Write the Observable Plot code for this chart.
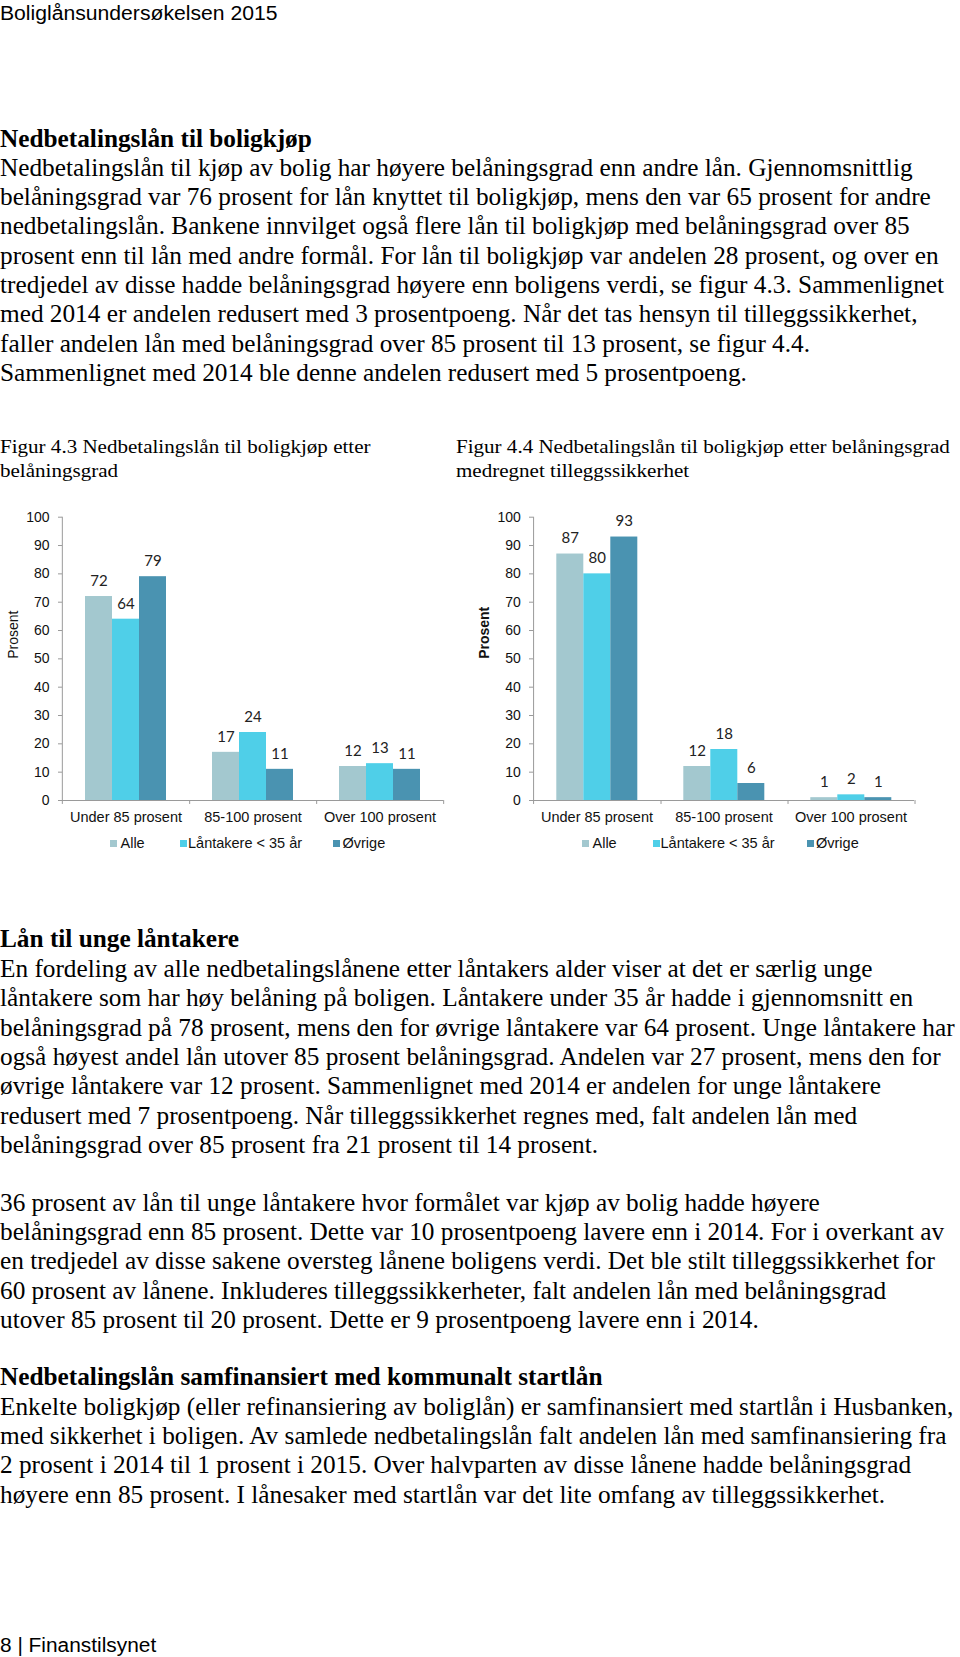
<!DOCTYPE html>
<html>
<head>
<meta charset="utf-8">
<script src="https://cdn.jsdelivr.net/npm/d3@7"></script>
<script src="https://cdn.jsdelivr.net/npm/@observablehq/plot@0.6"></script>
<style>
  html, body { margin: 0; padding: 0; background: #fff; }
  body { width: 960px; height: 1657px; position: relative; overflow: hidden; color: #000; }
  .ln { position: absolute; left: 0; white-space: nowrap; transform-origin: 0 50%; }
  .serif { font-family: "Liberation Serif", "Times New Roman", serif; }
  .sans { font-family: "Liberation Sans", Arial, sans-serif; }
  .chart { position: absolute; top: 500px; }
  .leg { position: absolute; font-family: "Liberation Sans", Arial, sans-serif; font-size: 14.5px; color: #111; white-space: nowrap; line-height: 18px; }
  .sq { position: absolute; width: 7px; height: 7px; }
</style>
</head>
<body>
<div id="page"></div>
<script>
// ---------- data ----------
const categories = ["Under 85 prosent", "85-100 prosent", "Over 100 prosent"];
const series = ["Alle", "Låntakere < 35 år", "Øvrige"];
const seriesColors = ["#a3c8cf", "#4fcfe8", "#4a93b1"];
const yTicks = [0, 10, 20, 30, 40, 50, 60, 70, 80, 90, 100];

// Figur 4.3
const alle43 = [72, 17, 12];
const unge43 = [64, 24, 13];
const ovrige43 = [79, 11, 11];
// Figur 4.4
const alle44 = [87, 12, 1];
const unge44 = [80, 18, 2];
const ovrige44 = [93, 6, 1];

const headerText = "Boliglånsundersøkelsen 2015";
const footerText = "8 | Finanstilsynet";
const heading1 = "Nedbetalingslån til boligkjøp";
const para1 = [
  "Nedbetalingslån til kjøp av bolig har høyere belåningsgrad enn andre lån. Gjennomsnittlig",
  "belåningsgrad var 76 prosent for lån knyttet til boligkjøp, mens den var 65 prosent for andre",
  "nedbetalingslån. Bankene innvilget også flere lån til boligkjøp med belåningsgrad over 85",
  "prosent enn til lån med andre formål. For lån til boligkjøp var andelen 28 prosent, og over en",
  "tredjedel av disse hadde belåningsgrad høyere enn boligens verdi, se figur 4.3. Sammenlignet",
  "med 2014 er andelen redusert med 3 prosentpoeng. Når det tas hensyn til tilleggssikkerhet,",
  "faller andelen lån med belåningsgrad over 85 prosent til 13 prosent, se figur 4.4.",
  "Sammenlignet med 2014 ble denne andelen redusert med 5 prosentpoeng."
];
const caption43 = ["Figur 4.3 Nedbetalingslån til boligkjøp etter", "belåningsgrad"];
const caption44 = ["Figur 4.4 Nedbetalingslån til boligkjøp etter belåningsgrad", "medregnet tilleggssikkerhet"];
const heading2 = "Lån til unge låntakere";
const para2 = [
  "En fordeling av alle nedbetalingslånene etter låntakers alder viser at det er særlig unge",
  "låntakere som har høy belåning på boligen. Låntakere under 35 år hadde i gjennomsnitt en",
  "belåningsgrad på 78 prosent, mens den for øvrige låntakere var 64 prosent. Unge låntakere har",
  "også høyest andel lån utover 85 prosent belåningsgrad. Andelen var 27 prosent, mens den for",
  "øvrige låntakere var 12 prosent. Sammenlignet med 2014 er andelen for unge låntakere",
  "redusert med 7 prosentpoeng. Når tilleggssikkerhet regnes med, falt andelen lån med",
  "belåningsgrad over 85 prosent fra 21 prosent til 14 prosent."
];
const para3 = [
  "36 prosent av lån til unge låntakere hvor formålet var kjøp av bolig hadde høyere",
  "belåningsgrad enn 85 prosent. Dette var 10 prosentpoeng lavere enn i 2014. For i overkant av",
  "en tredjedel av disse sakene oversteg lånene boligens verdi. Det ble stilt tilleggssikkerhet for",
  "60 prosent av lånene. Inkluderes tilleggssikkerheter, falt andelen lån med belåningsgrad",
  "utover 85 prosent til 20 prosent. Dette er 9 prosentpoeng lavere enn i 2014."
];
const heading3 = "Nedbetalingslån samfinansiert med kommunalt startlån";
const para4 = [
  "Enkelte boligkjøp (eller refinansiering av boliglån) er samfinansiert med startlån i Husbanken,",
  "med sikkerhet i boligen. Av samlede nedbetalingslån falt andelen lån med samfinansiering fra",
  "2 prosent i 2014 til 1 prosent i 2015. Over halvparten av disse lånene hadde belåningsgrad",
  "høyere enn 85 prosent. I lånesaker med startlån var det lite omfang av tilleggssikkerhet."
];

// ---------- text layout ----------
const bodyLines = [];
function addLine(text, cls, size, weight, centerY, left, group) {
  const d = document.createElement("div");
  d.className = "ln " + cls;
  d.textContent = text;
  const lh = size * 1.2;
  d.style.fontSize = size + "px";
  d.style.fontWeight = weight;
  d.style.lineHeight = lh + "px";
  d.style.top = (centerY - lh / 2) + "px";
  d.style.left = (left || 0) + "px";
  document.body.appendChild(d);
  if (group) group.push(d);
  return d;
}
function addBlock(lines, firstY, step, cls, size, weight, left, group) {
  return lines.map((t, i) => addLine(t, cls, size, weight, firstY + i * step, left, group));
}
const STEP = 29.35;
const BODY = 26;
const hdr = addLine(headerText, "sans", 20, 400, 12.5, 0, null);
addLine(heading1, "serif", BODY, 700, 138.5, 0, bodyLines);
const p1 = addBlock(para1, 167.2, STEP, "serif", BODY, 400, 0, bodyLines);
addLine(heading2, "serif", BODY, 700, 938.9, 0, bodyLines);
addBlock(para2, 968.5, STEP, "serif", BODY, 400, 0, bodyLines);
addBlock(para3, 1202.1, STEP, "serif", BODY, 400, 0, bodyLines);
addLine(heading3, "serif", BODY, 700, 1376.6, 0, bodyLines);
addBlock(para4, 1406.2, STEP, "serif", BODY, 400, 0, bodyLines);
const caps = [];
const c43 = addBlock(caption43, 447.2, 24.3, "serif", 19, 400, 0, caps);
addBlock(caption44, 447.2, 24.3, "serif", 19, 400, 456, caps);
const ftr = addLine(footerText, "sans", 20, 400, 1645, 0, null);

function fitGroup(group, refEl, targetW) {
  const k = targetW / refEl.offsetWidth;
  group.forEach(el => el.style.transform = `scaleX(${k})`);
}
fitGroup(bodyLines, p1[4], 944);
fitGroup(caps, c43[0], 371);
fitGroup([hdr], hdr, 277);
fitGroup([ftr], ftr, 156.5);

// ---------- charts ----------
function makeChart(alle, unge, ovrige, opts) {
  const data = [];
  const cols = [alle, unge, ovrige];
  categories.forEach((c, i) => series.forEach((s, j) => data.push({cat: c, series: s, value: cols[j][i]})));
  const W = opts.width, ML = opts.marginLeft, MR = opts.marginRight;
  const facetW = (W - ML - MR) / categories.length;
  const mid = series[1];
  return Plot.plot({
    width: W,
    height: 330,
    marginTop: 16.7,
    marginBottom: 30,
    marginLeft: ML,
    marginRight: MR,
    style: {fontFamily: "Liberation Sans, Arial, sans-serif", fontSize: "14px", color: "#111", background: "transparent", overflow: "visible"},
    fx: {domain: categories, padding: 0, label: null},
    x: {domain: series, paddingInner: 0, paddingOuter: 0.775, axis: null},
    y: {domain: [0, 100], axis: null},
    color: {domain: series, range: seriesColors},
    marks: [
      Plot.barY(data, {fx: "cat", x: "series", y: "value", fill: "series", inset: 0}),
      Plot.ruleY([0], {stroke: "#9a9a9a"}),
      // left axis line (drawn in first facet)
      Plot.ruleX([categories[0]], {fx: d => d, x: () => mid, dx: -facetW / 2, y1: -1.4, y2: 100, stroke: "#9a9a9a"}),
      // category separator ticks
      Plot.ruleX(categories, {fx: d => d, x: () => mid, dx: facetW / 2, y1: 0, y2: -1.4, stroke: "#9a9a9a"}),
      Plot.axisY({ticks: yTicks, tickSize: 4, tickPadding: opts.tickPadding, label: null, stroke: "#9a9a9a", fill: "#111", fontSize: 14}),
      Plot.axisFx({anchor: "bottom", tickSize: 0, tickPadding: 11, label: null, fontSize: 14.5, fill: "#111"}),
      Plot.text(data, {fx: "cat", x: "series", y: "value", text: d => String(d.value), dy: -15.5, fontSize: 15, fontFamily: "Lato, 'Open Sans', sans-serif", fill: "#222"}),
      Plot.text([{cat: categories[0], t: "Prosent"}], {fx: "cat", text: "t", frameAnchor: "left", dx: opts.labelDx, rotate: -90, fontSize: 14, fontWeight: opts.labelWeight, fill: "#111"})
    ]
  });
}

const left = makeChart(alle43, unge43, ovrige43, {width: 460, marginLeft: 61, marginRight: 17, tickPadding: 9, labelDx: -49, labelWeight: 400});
left.classList.add("chart"); left.style.left = "0px";
document.body.appendChild(left);
const right = makeChart(alle44, unge44, ovrige44, {width: 480, marginLeft: 72.7, marginRight: 25, tickPadding: 8.7, labelDx: -48.7, labelWeight: 700});
right.classList.add("chart"); right.style.left = "460px";
document.body.appendChild(right);

// ---------- legends ----------
function addLegend(items) {
  items.forEach((it, j) => {
    const sq = document.createElement("div");
    sq.className = "sq";
    sq.style.background = seriesColors[j];
    sq.style.left = it[0] + "px";
    sq.style.top = (843 - 3.5) + "px";
    document.body.appendChild(sq);
    const t = document.createElement("div");
    t.className = "leg";
    t.textContent = series[j];
    t.style.left = it[1] + "px";
    t.style.top = (843 - 9) + "px";
    document.body.appendChild(t);
  });
}
addLegend([[110, 120.5], [180, 188], [333, 342.5]]);
addLegend([[582, 592.5], [652.5, 660.5], [806.5, 816]]);
</script>
</body>
</html>
